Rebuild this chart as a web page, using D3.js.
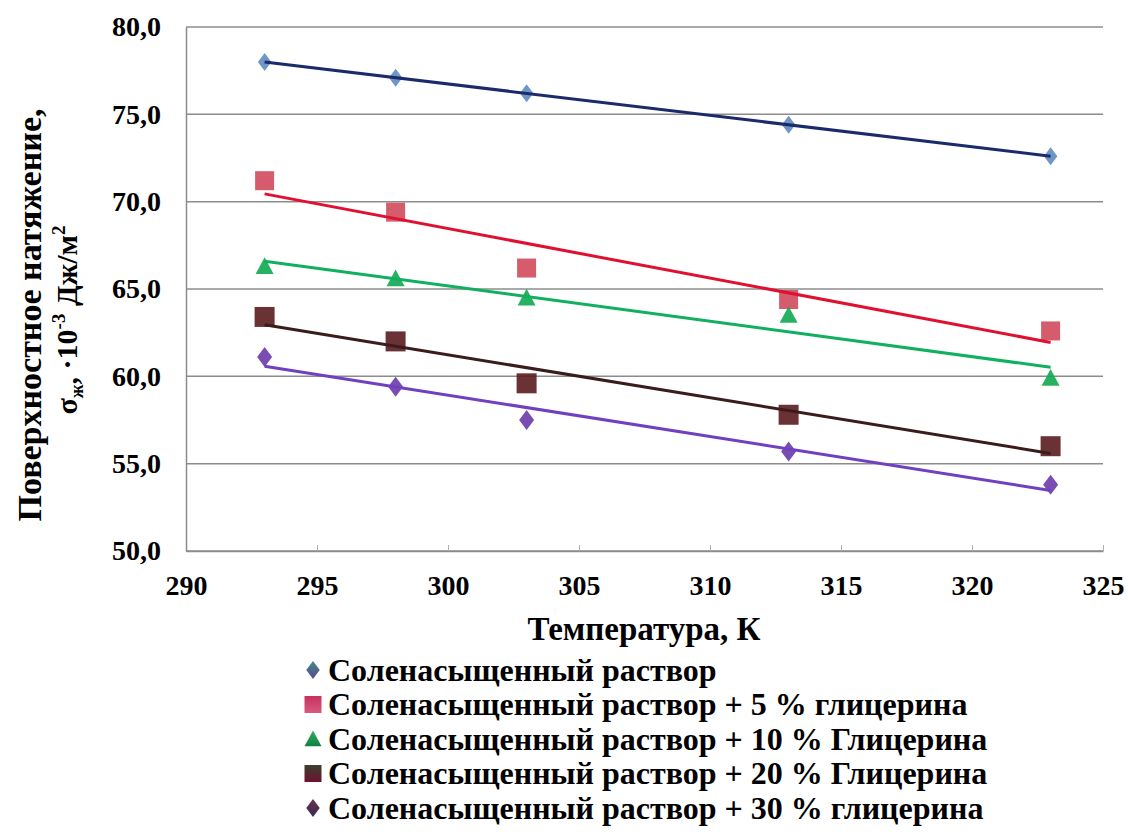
<!DOCTYPE html>
<html>
<head>
<meta charset="utf-8">
<script src="https://cdn.jsdelivr.net/npm/d3@7"></script>
<style>
  body { margin: 0; background: #fff; }
</style>
</head>
<body>
<div id="chart"></div>
<script>
// Temperatures (K) and measured surface tension for each solution
var temps = [293, 298, 303, 313, 323];
var brine = [78.0, 77.1, 76.2, 74.4, 72.6];
var glyc5 = [71.2, 69.4, 66.2, 64.4, 62.6];
var glyc10 = [66.3, 65.6, 64.5, 63.5, 59.9];
var glyc20 = [63.4, 62.0, 59.6, 57.8, 56.0];
var glyc30 = [61.1, 59.4, 57.5, 55.7, 53.8];

var seriesNames = [
  "Соленасыщенный раствор",
  "Соленасыщенный раствор + 5 % глицерина",
  "Соленасыщенный раствор + 10 % Глицерина",
  "Соленасыщенный раствор + 20 % Глицерина",
  "Соленасыщенный раствор + 30 % глицерина"
];
var xTicks = [290, 295, 300, 305, 310, 315, 320, 325];
var yTicks = [50, 55, 60, 65, 70, 75, 80];

var w = 1128;
var h = 834;
var margin = { left: 186, right: 25, top: 27, bottom: 283 };
var font = "Liberation Serif";

var series = [
  { name: seriesNames[0], values: brine, shape: "diamond", size: 18, fill: "#5f8cc0", line: "#1b2a6b", legend: ["#3f8a8a", "#5a4a8a"] },
  { name: seriesNames[1], values: glyc5, shape: "square", size: 19, fill: "#cf4a5c", line: "#e01030", legend: ["#c83060", "#d85a80"] },
  { name: seriesNames[2], values: glyc10, shape: "triangle", size: 18, fill: "#10a850", line: "#10b060", legend: ["#30b060", "#108040"] },
  { name: seriesNames[3], values: glyc20, shape: "square", size: 20, fill: "#5a1c1e", line: "#3a1c1c", legend: ["#3a4030", "#701030"] },
  { name: seriesNames[4], values: glyc30, shape: "diamond", size: 20, fill: "#6a3aa8", line: "#7040c0", legend: ["#6a3050", "#3a2a50"] }
];

var svg = d3
  .select("#chart")
  .append("svg")
  .attr("width", w)
  .attr("height", h)
  .attr("font-family", font)
  .attr("font-weight", "bold");

var xScale = d3
  .scaleLinear()
  .domain([290, 325])
  .range([margin.left, w - margin.right]);

var yScale = d3
  .scaleLinear()
  .domain([50, 80])
  .range([h - margin.bottom, margin.top]);

// Gradients for legend keys
var defs = svg.append("defs");
series.forEach(function (s, i) {
  var g = defs
    .append("linearGradient")
    .attr("id", "lg" + i)
    .attr("x1", 0).attr("y1", 0).attr("x2", 0).attr("y2", 1);
  g.append("stop").attr("offset", "0%").attr("stop-color", s.legend[0]);
  g.append("stop").attr("offset", "100%").attr("stop-color", s.legend[1]);
});

// Gridlines
svg
  .append("g")
  .selectAll("line")
  .data(yTicks)
  .enter()
  .append("line")
  .attr("x1", margin.left)
  .attr("x2", w - margin.right)
  .attr("y1", function (d) { return yScale(d); })
  .attr("y2", function (d) { return yScale(d); })
  .attr("stroke", "#8c8c8c")
  .attr("stroke-width", 1.5);

// X axis (ticks point inward)
var xAxis = svg
  .append("g")
  .attr("transform", "translate(0," + (h - margin.bottom) + ")")
  .call(d3.axisBottom(xScale).tickValues(xTicks).tickSizeInner(-6).tickSizeOuter(0).tickPadding(24));
xAxis.attr("font-family", font).attr("font-size", 28);
xAxis.select(".domain").attr("stroke", "#8c8c8c").attr("stroke-width", 1.5);
xAxis.selectAll(".tick line").attr("stroke", "#b0b0b0");

// Y axis
var yAxis = svg
  .append("g")
  .attr("transform", "translate(" + margin.left + ",0)")
  .call(
    d3.axisLeft(yScale)
      .tickValues(yTicks)
      .tickSize(0)
      .tickPadding(25)
      .tickFormat(function (d) { return d3.format(".1f")(d).replace(".", ","); })
  );
yAxis.attr("font-family", font).attr("font-size", 28);
yAxis.select(".domain").attr("stroke", "#8c8c8c").attr("stroke-width", 1.5);

// Marker shapes
function symbolFor(shape, size) {
  if (shape === "diamond") {
    var s = size / 2;
    return "M0," + -s + "L" + s * 0.75 + ",0L0," + s + "L" + -s * 0.75 + ",0Z";
  }
  if (shape === "triangle") {
    var t = size / 2;
    return "M0," + -t + "L" + t + "," + t * 0.85 + "L" + -t + "," + t * 0.85 + "Z";
  }
  var q = size / 2;
  return "M" + -q + "," + -q + "h" + size + "v" + size + "h" + -size + "Z";
}

// Least-squares trend line
function trend(values) {
  var mx = d3.mean(temps);
  var my = d3.mean(values);
  var sxy = d3.sum(temps, function (t, i) { return (t - mx) * (values[i] - my); });
  var sxx = d3.sum(temps, function (t) { return (t - mx) * (t - mx); });
  var slope = sxy / sxx;
  return function (t) { return my + slope * (t - mx); };
}

// Points
series.forEach(function (s) {
  svg
    .append("g")
    .selectAll("path")
    .data(s.values)
    .enter()
    .append("path")
    .attr("d", symbolFor(s.shape, s.size))
    .attr("transform", function (d, i) {
      return "translate(" + xScale(temps[i]) + "," + yScale(d) + ")";
    })
    .attr("fill", s.fill)
    .attr("opacity", 0.9);
});

// Trend lines on top of points
series.forEach(function (s) {
  var f = trend(s.values);
  var ends = [d3.min(temps), d3.max(temps)];
  svg
    .append("line")
    .attr("x1", xScale(ends[0]))
    .attr("y1", yScale(f(ends[0])))
    .attr("x2", xScale(ends[1]))
    .attr("y2", yScale(f(ends[1])))
    .attr("stroke", s.line)
    .attr("stroke-width", 3);
});

// Axis titles
svg
  .append("text")
  .attr("x", 644)
  .attr("y", 640)
  .attr("text-anchor", "middle")
  .attr("font-size", 33)
  .text("Температура, К");

var yTitle = svg
  .append("g")
  .attr("transform", "translate(0,315) rotate(-90)");
yTitle
  .append("text")
  .attr("x", 0)
  .attr("y", 41)
  .attr("text-anchor", "middle")
  .attr("font-size", 34)
  .text("Поверхностное натяжение,");
var sub = yTitle
  .append("text")
  .attr("x", -5)
  .attr("y", 77)
  .attr("text-anchor", "middle")
  .attr("font-size", 30);
sub.append("tspan").text("σ");
sub.append("tspan").attr("font-size", 19).attr("dy", 6).text("ж");
sub.append("tspan").attr("dy", -6).text(", ·10");
sub.append("tspan").attr("font-size", 19).attr("dy", -12).text("-3");
sub.append("tspan").attr("dy", 12).text(" Дж/м");
sub.append("tspan").attr("font-size", 19).attr("dy", -12).text("2");

// Legend
var legend = svg
  .append("g")
  .selectAll("g")
  .data(series)
  .enter()
  .append("g")
  .attr("transform", function (d, i) {
    return "translate(313," + (670 + i * 34.5) + ")";
  });

legend
  .append("path")
  .attr("d", function (d) {
    return symbolFor(d.shape, d.shape === "square" ? 17 : d.shape === "triangle" ? 17 : 18);
  })
  .attr("fill", function (d, i) { return "url(#lg" + i + ")"; });

legend
  .append("text")
  .attr("x", 15)
  .attr("y", 10.5)
  .attr("font-size", 32)
  .text(function (d) { return d.name; });
</script>
</body>
</html>
